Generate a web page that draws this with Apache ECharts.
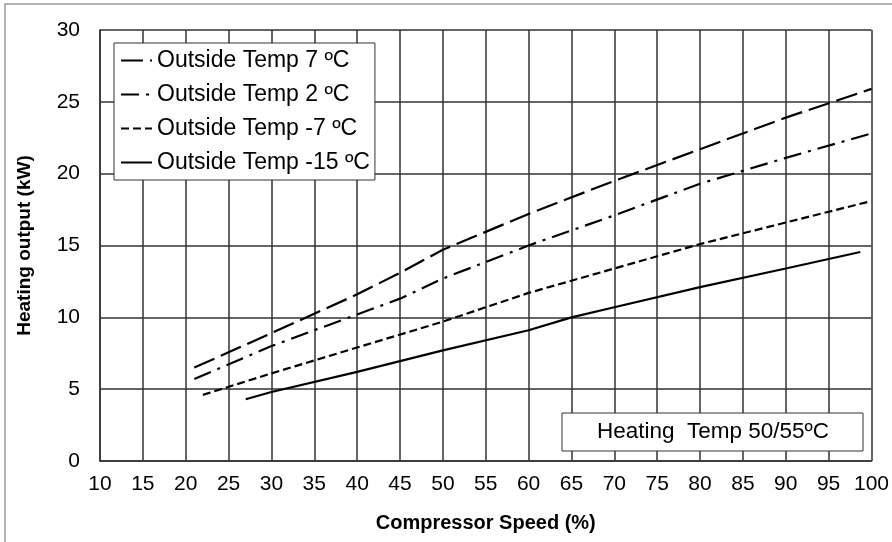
<!DOCTYPE html>
<html>
<head>
<meta charset="utf-8">
<script src="https://cdn.jsdelivr.net/npm/echarts@6/dist/echarts.min.js"></script>
<style>
  html, body { margin: 0; padding: 0; background: #fff; }
  #chart { width: 892px; height: 542px; }
</style>
</head>
<body>
<div id="chart"></div>
<script>
// compressor speed (%) / heating output (kW), one pair of arrays per curve
const speed7 = [21, 30, 40, 45, 50, 60, 70, 80, 90, 100]
const heat7 = [6.5, 8.9, 11.6, 13.1, 14.7, 17.2, 19.5, 21.7, 23.9, 25.9]
const speed2 = [21, 30, 40, 45, 50, 60, 70, 80, 90, 100]
const heat2 = [5.7, 8.0, 10.2, 11.3, 12.7, 15.0, 17.1, 19.3, 21.1, 22.8]
const speedM7 = [22, 30, 40, 50, 55, 60, 70, 80, 90, 99.7]
const heatM7 = [4.6, 6.1, 7.9, 9.7, 10.7, 11.7, 13.4, 15.1, 16.6, 18.05]
const speedM15 = [27, 30, 40, 50, 60, 65, 70, 80, 90, 98.7]
const heatM15 = [4.3, 4.8, 6.2, 7.7, 9.1, 10.0, 10.7, 12.1, 13.4, 14.55]

const seriesNames = ['Outside Temp 7 ºC', 'Outside Temp 2 ºC', 'Outside Temp -7 ºC', 'Outside Temp -15 ºC']
const noteText = 'Heating  Temp 50/55ºC'

const FONT = '"Liberation Sans", Arial, sans-serif'

function pairs (xs, ys) {
  return xs.map((x, i) => [x, ys[i]])
}

function lineSeries (name, xs, ys, dash) {
  return {
    type: 'line',
    name: name,
    data: pairs(xs, ys),
    symbol: 'none',
    smooth: false,
    lineStyle: { color: '#000', width: 2.2, type: dash },
    itemStyle: { color: '#000' },
    z: 3
  }
}

const chart = echarts.init(document.getElementById('chart'))

const option = {
  backgroundColor: '#fff',
  animation: false,
  grid: { left: 100, top: 30, right: 19, bottom: 81, containLabel: false },
  xAxis: {
    type: 'value',
    min: 10,
    max: 100,
    interval: 5,
    name: 'Compressor Speed (%)',
    nameLocation: 'middle',
    nameGap: 52,
    nameTextStyle: { fontFamily: FONT, fontWeight: 'bold', fontSize: 20, color: '#000' },
    axisLine: { show: true, lineStyle: { color: '#333', width: 1.5 } },
    axisTick: { show: false },
    axisLabel: { fontFamily: FONT, fontSize: 21, color: '#000', margin: 13 },
    splitLine: { show: true, lineStyle: { color: '#333', width: 1.5 } }
  },
  yAxis: {
    type: 'value',
    min: 0,
    max: 30,
    interval: 5,
    name: 'Heating output (kW)',
    nameLocation: 'middle',
    nameGap: 66,
    nameTextStyle: { fontFamily: FONT, fontWeight: 'bold', fontSize: 19, color: '#000' },
    axisLine: { show: true, lineStyle: { color: '#333', width: 1.5 } },
    axisTick: { show: false },
    axisLabel: { fontFamily: FONT, fontSize: 21, color: '#000', margin: 20 },
    splitLine: { show: true, lineStyle: { color: '#333', width: 1.5 } }
  },
  legend: {
    data: seriesNames,
    orient: 'vertical',
    left: 114,
    top: 43,
    itemWidth: 31,
    itemHeight: 14,
    itemGap: 11,
    padding: [6, 5, 6, 6],
    backgroundColor: '#fff',
    borderColor: '#333',
    borderWidth: 1,
    itemStyle: { opacity: 0 },
    textStyle: { fontFamily: FONT, fontSize: 23, color: '#000' },
    z: 10
  },
  graphic: [
    {
      type: 'rect',
      shape: { x: 5, y: 4, width: 920, height: 600 },
      style: { fill: 'none', stroke: '#999', lineWidth: 1.5 },
      silent: true,
      z: -10
    },
    {
      type: 'rect',
      shape: { x: 562, y: 413, width: 301, height: 38 },
      style: { fill: '#fff', stroke: '#333', lineWidth: 1 },
      z: 20
    },
    {
      type: 'text',
      x: 713,
      y: 432,
      style: {
        text: noteText,
        fontFamily: FONT,
        fontSize: 22.5,
        fill: '#000',
        align: 'center',
        verticalAlign: 'middle'
      },
      z: 21
    }
  ],
  series: [
    lineSeries(seriesNames[0], speed7, heat7, [22, 7]),
    lineSeries(seriesNames[1], speed2, heat2, [18, 7, 3, 7]),
    lineSeries(seriesNames[2], speedM7, heatM7, [8, 4]),
    lineSeries(seriesNames[3], speedM15, heatM15, 'solid')
  ]
}

chart.setOption(option)
</script>
</body>
</html>
